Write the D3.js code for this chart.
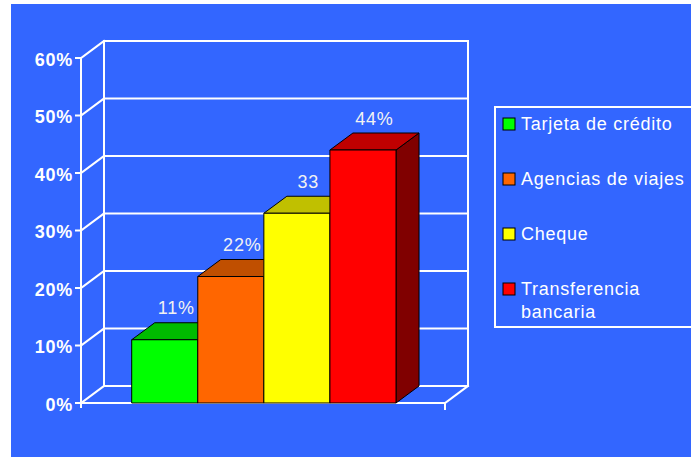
<!DOCTYPE html>
<html>
<head>
<meta charset="utf-8">
<script src="https://cdn.jsdelivr.net/npm/d3@7"></script>
<style>
  html, body { margin: 0; padding: 0; background: #ffffff; }
  svg { display: block; }
  text { font-family: "Liberation Sans", Arial, Helvetica, sans-serif; }
</style>
</head>
<body>
<div id="chart"></div>
<script>
// Medio de pago utilizado (porcentaje)
const categories = ["Tarjeta de crédito", "Agencias de viajes", "Cheque", "Transferencia bancaria"];
const values = [11, 22, 33, 44];
const valueLabels = ["11%", "22%", "33", "44%"];
const frontColors = ["#00ff00", "#ff6600", "#ffff00", "#ff0000"];
const topColors = ["#00bb00", "#c04f00", "#c0c000", "#c00000"];
const sideColors = ["#008000", "#803300", "#808000", "#800000"];
const yTicks = [0, 10, 20, 30, 40, 50, 60];
const yTickLabels = ["0%", "10%", "20%", "30%", "40%", "50%", "60%"];
const legendLines = [["Tarjeta de crédito"], ["Agencias de viajes"], ["Cheque"], ["Transferencia", "bancaria"]];

const W = 691, H = 463;
const svg = d3.select("#chart").append("svg").attr("width", W).attr("height", H);

// blue panel
svg.append("rect").attr("x", 11).attr("y", 4).attr("width", W - 11).attr("height", 453).attr("fill", "#3366ff");

// front plane extents and depth offset of the 3D box
const plotLeft = 81, plotRight = 445;
const dx = 23, dy = 17;
const y = d3.scaleLinear().domain([0, 60]).range([403, 58]);
const x = d3.scaleBand().domain(categories).range([131.7, 396]).paddingInner(0).paddingOuter(0);

const white = "#ffffff";
const grid = svg.append("g").attr("stroke", white).attr("stroke-width", 2).attr("fill", "none").attr("stroke-linecap", "square");

// back wall horizontal gridlines
grid.selectAll("line.h").data(yTicks).join("line")
  .attr("x1", plotLeft + dx).attr("x2", plotRight + dx)
  .attr("y1", d => y(d) - dy).attr("y2", d => y(d) - dy);
// left wall diagonals
grid.selectAll("line.d").data(yTicks).join("line")
  .attr("x1", plotLeft).attr("x2", plotLeft + dx)
  .attr("y1", d => y(d)).attr("y2", d => y(d) - dy);
// back wall verticals
[plotLeft + dx, plotRight + dx].forEach(px => {
  grid.append("line").attr("x1", px).attr("x2", px).attr("y1", y(0) - dy).attr("y2", y(60) - dy);
});
// floor front edge and right floor diagonal
grid.append("line").attr("x1", plotLeft).attr("x2", plotRight).attr("y1", y(0)).attr("y2", y(0));
grid.append("line").attr("x1", plotRight).attr("x2", plotRight + dx).attr("y1", y(0)).attr("y2", y(0) - dy);
grid.append("line").attr("x1", plotRight).attr("x2", plotRight).attr("y1", y(0)).attr("y2", y(0) + 6);

// bars (front, top and side faces), drawn left to right
const bars = svg.append("g").attr("stroke", "#000").attr("stroke-width", 1).attr("stroke-linejoin", "round");
categories.forEach((c, i) => {
  const l = x(c), r = x(c) + x.bandwidth(), t = y(values[i]), b = y(0);
  const g = bars.append("g");
  g.append("path").attr("fill", sideColors[i])
    .attr("d", `M${r},${b}L${r + dx},${b - dy}L${r + dx},${t - dy}L${r},${t}Z`);
  g.append("path").attr("fill", topColors[i])
    .attr("d", `M${l},${t}L${l + dx},${t - dy}L${r + dx},${t - dy}L${r},${t}Z`);
  g.append("rect").attr("fill", frontColors[i])
    .attr("x", l).attr("y", t).attr("width", r - l).attr("height", b - t);
});

// value labels
svg.append("g").selectAll("text").data(categories).join("text")
  .attr("x", (c) => x(c) + x.bandwidth() / 2 + dx / 2)
  .attr("y", (c, i) => y(values[i]) - dy - 8.5)
  .attr("text-anchor", "middle")
  .attr("fill", "#f2f2f2")
  .attr("font-size", 18)
  .attr("letter-spacing", 0.8)
  .text((c, i) => valueLabels[i]);

// y axis
const axis = svg.append("g");
axis.append("line").attr("x1", plotLeft).attr("x2", plotLeft).attr("y1", y(60)).attr("y2", y(0) + 5)
  .attr("stroke", white).attr("stroke-width", 2);
axis.selectAll("line.t").data(yTicks).join("line")
  .attr("x1", plotLeft - 6).attr("x2", plotLeft).attr("y1", d => y(d)).attr("y2", d => y(d))
  .attr("stroke", white).attr("stroke-width", 2);
axis.selectAll("text").data(yTicks).join("text")
  .attr("x", plotLeft - 8).attr("y", d => y(d)).attr("dy", "0.42em")
  .attr("text-anchor", "end").attr("fill", white)
  .attr("font-size", 18).attr("font-weight", "bold").attr("letter-spacing", 0.7)
  .text((d, i) => yTickLabels[i]);

// legend
const lg = svg.append("g");
lg.append("rect").attr("x", 495).attr("y", 107).attr("width", 210).attr("height", 220)
  .attr("fill", "none").attr("stroke", white).attr("stroke-width", 2);
const ly = d3.scalePoint().domain(categories).range([124, 289]);
categories.forEach((c, i) => {
  lg.append("rect").attr("x", 503).attr("y", ly(c) - 6).attr("width", 12).attr("height", 12)
    .attr("fill", frontColors[i]).attr("stroke", "#000").attr("stroke-width", 1);
  const t = lg.append("text").attr("x", 521).attr("y", ly(c)).attr("dy", "0.33em")
    .attr("fill", white).attr("font-size", 18).attr("letter-spacing", 0.75);
  legendLines[i].forEach((s, k) => {
    t.append("tspan").attr("x", 521).attr("dy", k === 0 ? "0.33em" : 23).text(s);
  });
});
</script>
</body>
</html>
